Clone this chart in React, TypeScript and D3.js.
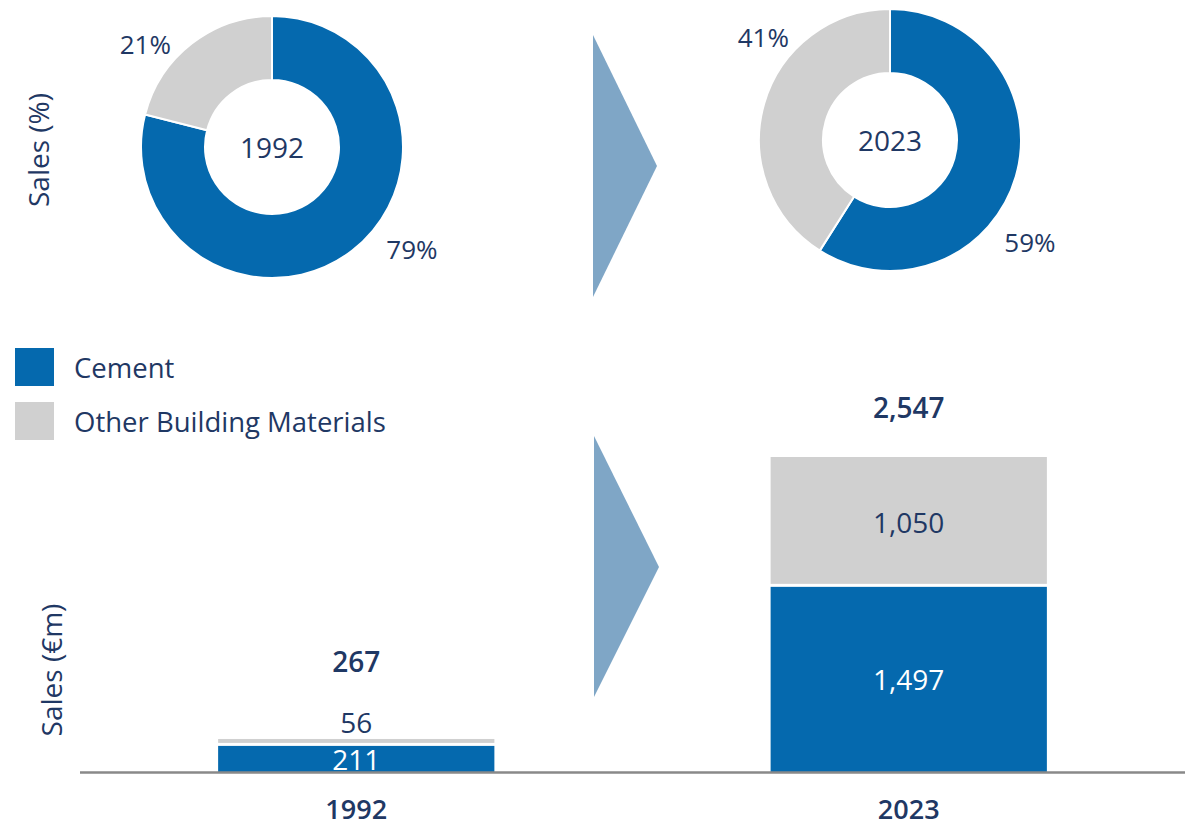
import React from 'react';
import * as d3 from 'd3';

// data
const years = ['1992', '2023'];
const seriesNames = ['Cement', 'Other Building Materials'];
const cementShare = [79, 59];
const otherShare = [21, 41];
const cementSales = [211, 1497];
const otherSales = [56, 1050];
const totalSales = [267, 2547];

const BLUE = '#0569ae';
const GREY = '#d0d0d0';
const NAVY = '#1f3864';
const ARROW = '#7fa6c6';
const FONT = "'Open Sans', 'Noto Sans', sans-serif";

const W = 1194;
const H = 827;

// donut layout
const donutCenters = [
  { x: 272, y: 147 },
  { x: 890, y: 140 },
];
const rOuter = 131;
const rInner = 67;
// percent labels sit at fixed angles round the ring (clockwise from top, degrees)
const labelAngle = [126, 309];
const labelRadius = [173, 163];

const pie = d3.pie<number>().sort(null).value((d) => d);
const arc = d3.arc<d3.PieArcDatum<number>>().innerRadius(rInner).outerRadius(rOuter);

// bar layout
const baseY = 772;
const x = d3.scaleBand<string>().domain(years).range([80, 1185]).paddingInner(0.5).paddingOuter(0.25);
const y = d3.scaleLinear().domain([0, d3.max(totalSales) as number]).range([baseY, 457]);
const fmt = d3.format(',');

const barRows = years.map((yr, i) => ({ year: yr, Cement: cementSales[i], Other: otherSales[i] }));
const stack = d3.stack<any>().keys(['Cement', 'Other']);
const stacked = stack(barRows);

const Donut = ({ i }: { i: number }) => {
  const c = donutCenters[i];
  const slices = pie([cementShare[i], otherShare[i]]);
  const colors = [BLUE, GREY];
  return (
    <g transform={`translate(${c.x},${c.y})`}>
      {slices.map((s, k) => (
        <path key={k} d={arc(s) || ''} fill={colors[k]} stroke="#fff" strokeWidth={2} />
      ))}
      <text textAnchor="middle" dominantBaseline="central" y={0} fontSize={28} fill={NAVY}>
        {years[i]}
      </text>
      {slices.map((s, k) => {
        const a = (labelAngle[k] * Math.PI) / 180;
        const r = labelRadius[k];
        return (
          <text
            key={'l' + k}
            x={Math.sin(a) * r}
            y={-Math.cos(a) * r}
            textAnchor="middle"
            dominantBaseline="central"
            fontSize={26}
            fontWeight={500}
            fill={NAVY}
          >
            {`${s.data}%`}
          </text>
        );
      })}
    </g>
  );
};

export default function App() {
  const bw = x.bandwidth();
  return (
    <svg
      width={W}
      height={H}
      style={{ position: 'absolute', left: 0, top: 0, background: '#fff' }}
      fontFamily={FONT}
    >
      {/* axis titles */}
      <text transform="translate(38,150) rotate(-90)" textAnchor="middle" dominantBaseline="central" fontSize={28} fill={NAVY}>
        Sales (%)
      </text>
      <text transform="translate(51,670) rotate(-90)" textAnchor="middle" dominantBaseline="central" fontSize={28} fill={NAVY}>
        Sales (€m)
      </text>

      <Donut i={0} />
      <Donut i={1} />

      {/* arrows */}
      <polygon points="593,35 657,166 593,297" fill={ARROW} />
      <polygon points="594,436 659,567 594,697" fill={ARROW} />

      {/* legend */}
      {seriesNames.map((n, k) => (
        <g key={n} transform={`translate(15,${348 + k * 54})`}>
          <rect width={39} height={38} fill={k === 0 ? BLUE : GREY} />
          <text x={59} y={19} dominantBaseline="central" fontSize={27.5} fill={NAVY}>
            {n}
          </text>
        </g>
      ))}

      {/* stacked bars */}
      {stacked.map((layer, k) => (
        <g key={layer.key}>
          {layer.map((d, i) => {
            const x0 = x(years[i]) as number;
            const top = y(d[1]);
            const bottom = y(d[0]) - (k > 0 ? 3 : 0);
            return <rect key={i} x={x0} y={top} width={bw} height={Math.max(0, bottom - top)} fill={k === 0 ? BLUE : GREY} />;
          })}
        </g>
      ))}

      {/* segment labels */}
      {stacked.map((layer, k) =>
        layer.map((d, i) => {
          const cx = (x(years[i]) as number) + bw / 2;
          const top = y(d[1]);
          const bottom = y(d[0]);
          const small = bottom - top < 30;
          const ly = small && k > 0 ? top - 17 : (top + bottom) / 2;
          const val = k === 0 ? cementSales[i] : otherSales[i];
          return (
            <text
              key={layer.key + i}
              x={cx}
              y={ly}
              textAnchor="middle"
              dominantBaseline="central"
              fontSize={28}
              fill={k === 0 ? '#fff' : NAVY}
            >
              {fmt(val)}
            </text>
          );
        })
      )}

      {/* totals */}
      {years.map((yr, i) => {
        const cx = (x(yr) as number) + bw / 2;
        const topSeg = y(cementSales[i]) - y(totalSales[i]);
        const extra = topSeg < 30 ? 28 : 0;
        return (
          <text key={'t' + yr} x={cx} y={y(totalSales[i]) - 39 - extra} textAnchor="middle" fontSize={28} fontWeight={600} fill={NAVY}>
            {fmt(totalSales[i])}
          </text>
        );
      })}

      {/* baseline */}
      <line x1={80} x2={1185} y1={baseY + 0.5} y2={baseY + 0.5} stroke="#898989" strokeWidth={2.5} />

      {/* year labels */}
      {years.map((yr) => (
        <text key={'x' + yr} x={(x(yr) as number) + bw / 2} y={819} textAnchor="middle" fontSize={27} fontWeight={600} fill={NAVY}>
          {yr}
        </text>
      ))}
    </svg>
  );
}
